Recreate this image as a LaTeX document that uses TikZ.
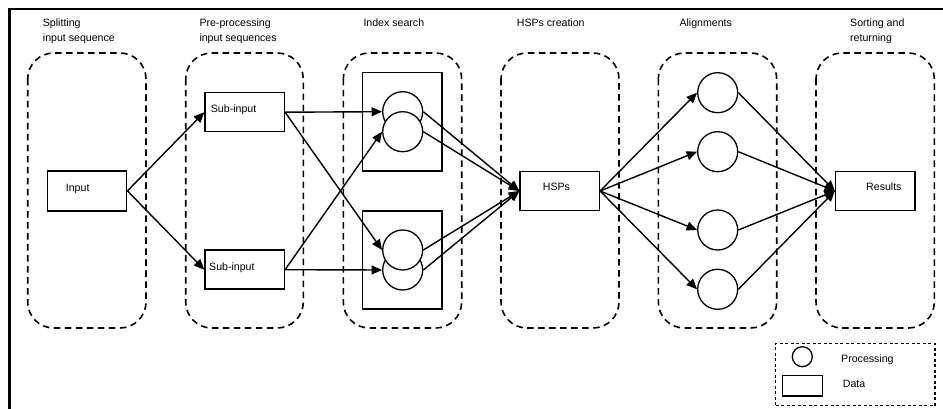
\documentclass[tikz,border=0pt]{standalone}
\usepackage{fontspec}
\setmainfont{Liberation Sans}
\usetikzlibrary{arrows.meta}
\tikzset{
  grp/.style={draw, line width=1.6pt, dash pattern=on 6.5pt off 4.5pt, rounded corners=26pt},
  databox/.style={draw, line width=1.5pt, rectangle, inner sep=0pt, fill=white},
  proc/.style={draw, line width=1.3pt, circle, inner sep=0pt, minimum size=40pt, fill=white},
  lbl/.style={inner sep=0pt, anchor=base west, font=\fontsize{10.6}{15}\selectfont},
  conn/.style={line width=1.4pt, -{Triangle[length=10.5pt,width=9pt]}},
}
\begin{document}
\begin{tikzpicture}[x=1pt,y=-1pt]
\useasboundingbox (0,0) rectangle (943,409);
% outer frame (top and left edges)
\draw[line width=2.5pt] (9.7,409) -- (9.7,9) -- (943,9);

% groups
\draw[grp] (27.7,53) rectangle (146,328);
\draw[grp] (185.7,53) rectangle (303.3,328);
\draw[grp] (343.3,53) rectangle (461.7,328);
\draw[grp] (501,53) rectangle (619,328);
\draw[grp] (658.3,53) rectangle (776.7,328);
\draw[grp] (816,53) rectangle (934.3,328);

% titles
\node[lbl] (t1a) at (42.7,27) {Splitting};
\node[lbl] (t1b) at (42.7,42) {input sequence};
\node[lbl] (t2a) at (199.3,27) {Pre-processing};
\node[lbl] (t2b) at (199.3,42) {input sequences};
\node[lbl] (t3) at (363.3,27) {Index search};
\node[lbl] (t4) at (516.7,27) {HSPs creation};
\node[lbl] (t5) at (679.3,27) {Alignments};
\node[lbl] (t6a) at (850,27) {Sorting and};
\node[lbl] (t6b) at (850,42) {returning};

% data boxes
\node[databox, minimum width=79pt, minimum height=39.7pt] (input) at (87.2,190.9) {};
\node[databox, minimum width=79.3pt, minimum height=39pt] (subA) at (244.7,112.2) {};
\node[databox, minimum width=79.3pt, minimum height=39pt] (subB) at (244.7,269.7) {};
\node[databox, minimum width=79.3pt, minimum height=98.3pt] (idxA) at (402.3,121.9) {};
\node[databox, minimum width=79.3pt, minimum height=98.3pt] (idxB) at (402.3,259.9) {};
\node[databox, minimum width=79.3pt, minimum height=39.4pt] (hsp) at (559.7,191) {};
\node[databox, minimum width=79.3pt, minimum height=39.4pt] (res) at (875.3,191) {};

\node[lbl] (inputT) at (65.7,192) {Input};
\node[lbl] (subAT) at (210.7,112.5) {Sub-input};
\node[lbl] (subBT) at (209,270) {Sub-input};
\node[lbl] (hspT) at (542.7,191) {HSPs};
\node[lbl] (resT) at (866,191) {Results};

% processing circles
\node[proc] (cA1) at (402.7,111.7) {};
\node[proc] (cA2) at (402.7,131.7) {};
\node[proc] (cB2) at (402.7,270) {};
\node[proc] (cB1) at (402.7,250) {};
\node[proc] (al1) at (717.7,92.7) {};
\node[proc] (al2) at (717.7,151.7) {};
\node[proc] (al3) at (717.7,230) {};
\node[proc] (al4) at (717.7,289.3) {};

% connectors
\draw[conn] (input.east) -- (subA.west);
\draw[conn] (input.east) -- (subB.west);
\draw[conn] (subA.east) -- (cA1.west);
\draw[conn] (subA.east) -- (cB1.west);
\draw[conn] (subB.east) -- (cA2.west);
\draw[conn] (subB.east) -- (cB2.west);
\draw[conn] (cA1.east) -- (hsp.west);
\draw[conn] (cA2.east) -- (hsp.west);
\draw[conn] (cB1.east) -- (hsp.west);
\draw[conn] (cB2.east) -- (hsp.west);
\draw[conn] (hsp.east) -- (al1.west);
\draw[conn] (hsp.east) -- (al2.west);
\draw[conn] (hsp.east) -- (al3.west);
\draw[conn] (hsp.east) -- (al4.west);
\draw[conn] (al1.east) -- (res.west);
\draw[conn] (al2.east) -- (res.west);
\draw[conn] (al3.east) -- (res.west);
\draw[conn] (al4.east) -- (res.west);

% legend
\node[draw, line width=1.5pt, dash pattern=on 3pt off 2.5pt, rectangle, inner sep=0pt,
      minimum width=159.3pt, minimum height=62.4pt] (legend) at (855.35,374.5) {};
\node[draw, line width=1.3pt, circle, inner sep=0pt, minimum size=20pt] (legC) at (802.3,356.7) {};
\node[databox, minimum width=40pt, minimum height=20.3pt] (legR) at (802.3,385.85) {};
\node[lbl] (legCT) at (841,362) {Processing};
\node[lbl] (legRT) at (842.7,387) {Data};
\end{tikzpicture}
\end{document}
